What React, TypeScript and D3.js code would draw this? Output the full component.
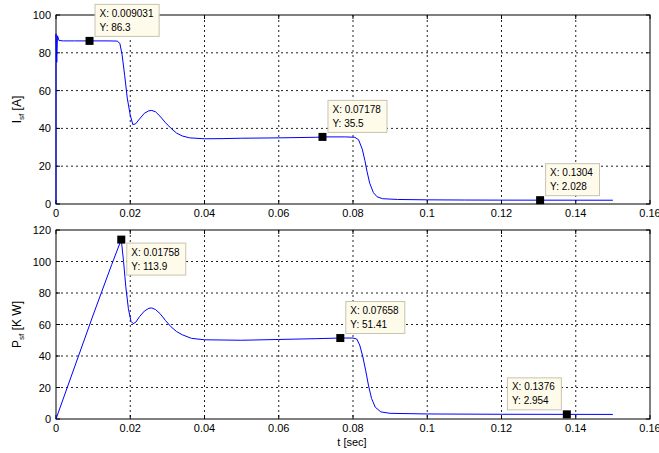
import React from "react";
import * as d3 from "d3";

// stator current I_sf [A]
const tI = [0, 0, 0.0002, 0.0004, 0.0008, 0.002, 0.005, 0.009031, 0.014, 0.0165, 0.0172, 0.0178, 0.0185, 0.0192, 0.02, 0.0207, 0.0215, 0.0225, 0.0238, 0.025, 0.0258, 0.0268, 0.028, 0.0295, 0.031, 0.0325, 0.034, 0.036, 0.04, 0.045, 0.05, 0.06, 0.07, 0.07178, 0.078, 0.0805, 0.0815, 0.0825, 0.0832, 0.0838, 0.0845, 0.0855, 0.0865, 0.088, 0.092, 0.1, 0.11, 0.12, 0.1304, 0.15];
const vI = [0, 90, 75, 89, 86.5, 86.3, 86.3, 86.3, 86.3, 86.2, 85, 79, 68, 56, 47, 42, 42.5, 45, 48, 49.3, 49.5, 48.8, 46.5, 43, 40, 37.5, 36, 35, 34.5, 34.6, 34.8, 35, 35.3, 35.5, 35.5, 35.3, 34, 29, 23, 17, 11, 6, 3.8, 2.8, 2.4, 2.2, 2.1, 2.05, 2.028, 2.0];

// stator power P_sf [K W]
const tP = [0, 0.005, 0.01, 0.015, 0.01758, 0.0182, 0.0188, 0.0195, 0.0202, 0.0208, 0.0215, 0.0225, 0.0238, 0.025, 0.0258, 0.0268, 0.028, 0.0295, 0.031, 0.0325, 0.034, 0.0365, 0.04, 0.05, 0.06, 0.07, 0.07658, 0.08, 0.081, 0.0818, 0.0826, 0.0834, 0.0842, 0.085, 0.086, 0.0875, 0.09, 0.1, 0.12, 0.1376, 0.15];
const vP = [0, 33, 66, 98, 113.9, 100, 84, 70, 62, 60.5, 61.5, 65, 68.5, 70.3, 70.5, 69.5, 67, 62.5, 58.5, 55.5, 53.5, 51.2, 50.3, 50, 50.5, 51, 51.41, 51.4, 50.8, 47, 40, 31, 21, 13, 7.5, 4.5, 3.6, 3.2, 3.0, 2.954, 2.9];

// data tips
const tipsI = [{ x: "0.009031", y: "86.3" }, { x: "0.07178", y: "35.5" }, { x: "0.1304", y: "2.028" }];
const tipsP = [{ x: "0.01758", y: "113.9" }, { x: "0.07658", y: "51.41" }, { x: "0.1376", y: "2.954" }];

const xTicks = [0, 0.02, 0.04, 0.06, 0.08, 0.1, 0.12, 0.14, 0.16];
const yTicksI = [0, 20, 40, 60, 80, 100];
const yTicksP = [0, 20, 40, 60, 80, 100, 120];

const W = 659;
const H = 453;
const FONT = "'Liberation Sans', Arial, sans-serif";

const x = d3.scaleLinear().domain([0, 0.16]).range([56, 650]);
const fmt = (v: number) => String(+v.toFixed(2));

type Tip = { x: string; y: string };

function Panel({ t, v, tips, place, yTicks, yMax, top, bottom, label }: {
  t: number[]; v: number[]; tips: Tip[]; place: string[]; yTicks: number[];
  yMax: number; top: number; bottom: number; label: string;
}) {
  const y = d3.scaleLinear().domain([0, yMax]).range([bottom, top]);
  const line = d3.line<number>().x((d, i) => x(t[i])).y((d) => y(d));
  const x0 = x.range()[0];
  const x1 = x.range()[1];
  return (
    <g>
      {xTicks.slice(1, -1).map((d) => (
        <line key={"gx" + d} x1={x(d)} x2={x(d)} y1={top} y2={bottom}
          stroke="#222" strokeDasharray="2,3" strokeWidth={1} />
      ))}
      {yTicks.slice(1, -1).map((d) => (
        <line key={"gy" + d} x1={x0} x2={x1} y1={y(d)} y2={y(d)}
          stroke="#222" strokeDasharray="2,3" strokeWidth={1} />
      ))}
      <rect x={x0} y={top} width={x1 - x0} height={bottom - top} fill="none" stroke="#000" />
      {xTicks.map((d) => (
        <g key={"tx" + d}>
          <line x1={x(d)} x2={x(d)} y1={bottom} y2={bottom - 4} stroke="#000" />
          <line x1={x(d)} x2={x(d)} y1={top} y2={top + 4} stroke="#000" />
          <text x={x(d)} y={bottom + 13} textAnchor="middle" fontSize={11} fontFamily={FONT}>{fmt(d)}</text>
        </g>
      ))}
      {yTicks.map((d) => (
        <g key={"ty" + d}>
          <line x1={x0} x2={x0 + 4} y1={y(d)} y2={y(d)} stroke="#000" />
          <line x1={x1} x2={x1 - 4} y1={y(d)} y2={y(d)} stroke="#000" />
          <text x={51} y={y(d) + 4} textAnchor="end" fontSize={11} fontFamily={FONT}>{d}</text>
        </g>
      ))}
      <text transform={`translate(21,${(top + bottom) / 2}) rotate(-90)`} textAnchor="middle"
        fontSize={12} fontFamily={FONT}>
        {label.charAt(0)}
        <tspan fontSize={8} dy={3}>sf</tspan>
        <tspan dy={-3}>{" " + label.slice(1)}</tspan>
      </text>
      <path d={line(v) ?? ""} fill="none" stroke="#0000ff" strokeWidth={1} />
      {tips.map((tp, i) => {
        const mx = x(+tp.x);
        const my = y(+tp.y);
        const bw = 8 + Math.max(tp.x.length + 3, tp.y.length + 3) * 5.1;
        const bh = 32;
        const p = place[i];
        const bx = p.includes("l") ? mx - 6 - bw : mx + 5;
        const by = p.includes("b") ? my + 3 : my - 5 - bh;
        return (
          <g key={"tip" + i}>
            <rect x={mx - 4} y={my - 4} width={8} height={8} fill="#000" />
            <rect x={bx + 0.5} y={by + 0.5} width={bw} height={bh} fill="#fffbeb" stroke="#c8c2b0" />
            <text x={bx + 5} y={by + 13} fontSize={10} fontFamily={FONT}>X: {tp.x}</text>
            <text x={bx + 5} y={by + 27} fontSize={10} fontFamily={FONT}>Y: {tp.y}</text>
          </g>
        );
      })}
    </g>
  );
}

export default function App() {
  return (
    <svg width={W} height={H} style={{ display: "block", position: "absolute", left: 0, top: 0, background: "#fff" }}>
      <rect width={W} height={H} fill="#fff" />
      <Panel t={tI} v={vI} tips={tipsI} place={["tr", "tr", "tr"]} yTicks={yTicksI} yMax={100}
        top={15} bottom={204} label="I[A]" />
      <Panel t={tP} v={vP} tips={tipsP} place={["br", "tr", "tl"]} yTicks={yTicksP} yMax={120}
        top={230} bottom={419} label="P[K W]" />
      <text x={352} y={446} textAnchor="middle" fontSize={11} fontFamily={FONT}>t [sec]</text>
    </svg>
  );
}
